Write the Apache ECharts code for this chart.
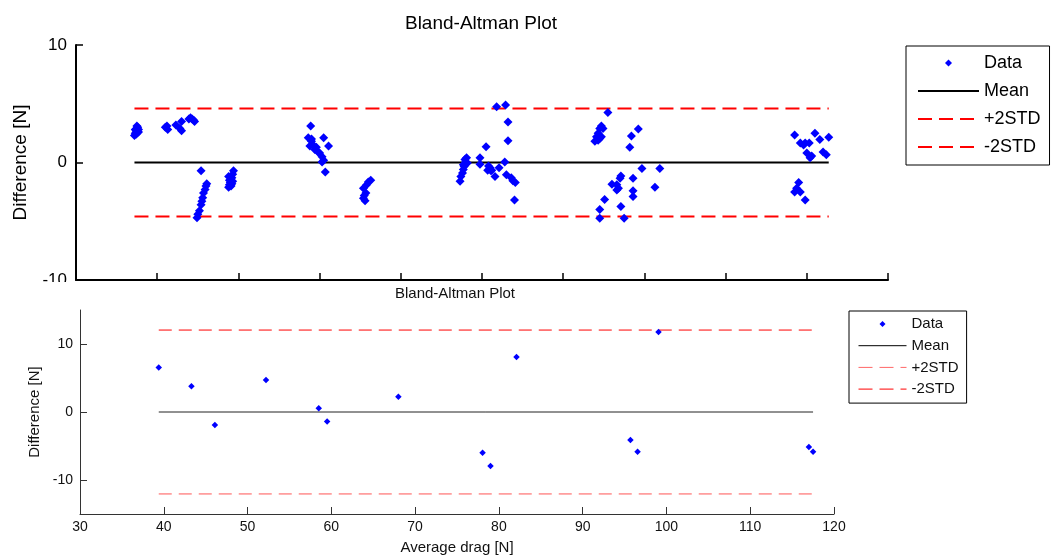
<!DOCTYPE html>
<html><head><meta charset="utf-8">
<script src="https://cdn.jsdelivr.net/npm/echarts@6/dist/echarts.min.js"></script>
<style>html,body{margin:0;padding:0;background:#fff}#c{width:1052px;height:558px}</style>
</head><body><div id="c"></div>
<script>
const FONT = '"Liberation Sans", Arial, Helvetica, sans-serif';
const chartTitle = 'Bland-Altman Plot';
const yName = 'Difference [N]';
const xName = 'Average drag [N]';
const legendNames = ['Data', 'Mean', '+2STD', '-2STD'];

// Top panel (average, difference)
const topAvg = [
  37.2,37.3,37.4,37.5,37.6,37.3,37.5,37.6,37.7,37.4,37.5,37.7,
  41.0,41.3,41.2,42.3,43.0,42.8,43.0,43.9,44.1,44.3,44.5,44.6,
  45.4,46.1,46.0,45.9,45.7,45.6,45.5,45.4,45.2,45.0,44.9,
  49.4,49.3,49.2,48.8,48.9,49.0,49.3,48.9,49.1,48.8,49.2,
  58.9,58.6,59.0,59.2,58.8,60.5,61.1,60.0,60.3,60.5,60.3,60.7,59.4,59.8,59.0,59.6,
  66.3,66.0,65.8,65.4,65.7,65.4,65.6,65.5,
  77.3,77.4,77.6,77.7,77.8,78.0,78.1,77.9,78.2,77.7,79.75,79.75,80.5,80.7,81.0,81.2,81.6,82.1,82.8,83.2,83.2,81.8,82.9,83.0,83.6,83.8,84.1,84.0,80.8,81.1,
  95.5,94.7,94.5,94.9,94.3,94.1,94.5,93.9,94.3,94.7,99.25,98.4,98.2,99.7,101.9,97.1,98.6,96.0,96.8,96.6,101.3,98.6,98.6,95.1,97.1,94.5,94.5,97.5,97.0,96.6,
  118.5,121.0,122.7,121.6,119.2,119.8,120.3,119.6,120.0,120.6,122.0,122.4,120.4,119.0,118.75,119.2,119.8,118.5
];
const topDiff = [
  2.3,2.5,2.7,2.9,3.0,2.8,2.5,2.6,2.8,2.4,3.1,2.6,
  3.0,2.8,3.1,3.2,3.5,2.9,2.7,3.7,3.8,3.7,3.6,3.5,
  -0.7,-1.8,-2.0,-2.3,-2.6,-3.0,-3.3,-3.6,-4.1,-4.4,-4.7,
  -0.7,-1.0,-1.3,-1.2,-1.5,-1.7,-1.6,-1.9,-2.0,-2.1,-1.8,
  3.1,2.1,1.8,1.5,1.4,2.1,1.4,0.8,0.5,0.2,0.05,-0.8,1.1,0.9,2.0,1.3,
  -1.5,-1.65,-1.9,-2.2,-2.6,-3.05,-3.25,-2.8,
  -1.6,-1.2,-0.9,-0.6,-0.35,0.05,0.4,0.25,-0.05,-0.2,0.4,-0.15,1.35,-0.65,-0.45,-0.65,-1.2,-0.45,0.05,1.85,3.45,4.75,4.9,-1.05,-1.3,-1.55,-1.7,-3.2,-0.3,-0.7,
  4.25,3.1,2.9,2.9,2.5,2.2,2.05,1.8,1.9,2.2,2.85,2.25,1.3,-0.5,-0.5,-1.15,-1.35,-1.85,-2.2,-2.35,-2.1,-2.4,-2.9,-3.15,-3.75,-4.0,-4.75,-4.75,-1.35,-1.9,
  2.35,2.5,2.15,1.95,1.65,1.65,1.65,1.5,0.8,0.55,0.9,0.65,0.4,-1.7,-2.2,-2.5,-3.2,-2.5
];
const topMean = 0;
const topLimit = 4.6;

// Bottom panel
const botAvg  = [39.4,43.3,46.1,52.2,58.5,59.5,68.0,78.05,79.0,82.1,99.05,95.7,96.55,117.0,117.5];
const botDiff = [6.55,3.8,-1.9,4.7,0.55,-1.4,2.25,-6.0,-7.95,8.1,11.75,-4.1,-5.85,-5.15,-5.85];
const botMean = 0;
const botLimit = 12.05;

// Axis ranges / ticks
const topXRange = [30, 130];
const topYRange = [-10, 10];
const botXRange = [30, 120];
const botYRange = [-15, 15];
const botYTicks = [-10, 0, 10];

const pairs = (xs, ys) => xs.map((x, i) => [x, ys[i]]);
const span = (xs, v) => [[Math.min(...xs), v], [Math.max(...xs), v]];

// legend icon: small diamond centred in a box of the legend item size (moveTo points fix the bounds)
function diamondIcon(w, h, d) {
  const cx = w / 2, cy = h / 2, r = d / 2;
  return 'path://M0,0M' + w + ',' + h + 'M' + cx + ',' + (cy - r) + 'L' + (cx + r) + ',' + cy +
         'L' + cx + ',' + (cy + r) + 'L' + (cx - r) + ',' + cy + 'Z';
}
function legendData(w, h, d, plusColor, minusColor) {
  const hide = {opacity: 0, borderWidth: 0};
  return [
    {name: legendNames[0], icon: diamondIcon(w, h, d), itemStyle: {color: '#0000ff', opacity: 1}},
    {name: legendNames[1], itemStyle: hide},
    {name: legendNames[2], itemStyle: hide, lineStyle: {color: plusColor}},
    {name: legendNames[3], itemStyle: hide, lineStyle: {color: minusColor}}
  ];
}

const chart = echarts.init(document.getElementById('c'), null, {renderer: 'canvas'});

function axisX(grid, range, showLabel, fs, lw, color, name) {
  return {
    type: 'value', gridIndex: grid, min: range[0], max: range[1], interval: 10,
    axisLine: {show: true, onZero: false, lineStyle: {color: color, width: lw}},
    axisTick: {show: true, inside: true, length: 7, lineStyle: {color: color, width: lw > 1 ? 1.5 : 1}},
    axisLabel: {show: showLabel, fontSize: fs, color: '#111', fontFamily: FONT, margin: 6},
    splitLine: {show: false},
    name: name || '', nameLocation: 'middle', nameGap: 26,
    nameTextStyle: {fontSize: 15, color: '#111', fontFamily: FONT}
  };
}

const option = {
  animation: false,
  backgroundColor: '#fff',
  textStyle: {fontFamily: FONT},
  title: [
    {text: chartTitle, left: 481, top: 14, textAlign: 'center', padding: 0,
     textStyle: {fontSize: 19, fontWeight: 'normal', color: '#000', fontFamily: FONT}},
    {text: chartTitle, left: 455, top: 286, textAlign: 'center', padding: 0,
     textStyle: {fontSize: 15, fontWeight: 'normal', color: '#111', fontFamily: FONT}}
  ],
  grid: [
    {left: 76, top: 45, width: 812, height: 235},
    {left: 80, top: 310, width: 754, height: 204}
  ],
  xAxis: [
    axisX(0, topXRange, false, 17, 2, '#000'),
    axisX(1, botXRange, true, 14, 1, '#333', xName)
  ],
  yAxis: [
    {type: 'value', gridIndex: 0, min: topYRange[0], max: topYRange[1], interval: 10,
     axisLine: {show: true, onZero: false, lineStyle: {color: '#000', width: 2}},
     axisTick: {show: true, inside: true, length: 7, lineStyle: {color: '#000', width: 1.5}},
     axisLabel: {fontSize: 17, color: '#000', margin: 9, fontFamily: FONT},
     splitLine: {show: false},
     name: yName, nameLocation: 'middle', nameGap: 46,
     nameTextStyle: {fontSize: 19, color: '#000', fontFamily: FONT}},
    {type: 'value', gridIndex: 1, min: botYRange[0], max: botYRange[1],
     axisLine: {show: true, onZero: false, lineStyle: {color: '#333', width: 1}},
     axisTick: {show: true, inside: true, length: 7, customValues: botYTicks, lineStyle: {color: '#333', width: 1}},
     axisLabel: {fontSize: 14, color: '#111', margin: 7, customValues: botYTicks, fontFamily: FONT},
     splitLine: {show: false},
     name: yName, nameLocation: 'middle', nameGap: 31,
     nameTextStyle: {fontSize: 15, color: '#111', fontFamily: FONT}}
  ],
  legend: [
    {orient: 'vertical', left: 906, top: 46, padding: [7, 9, 8, 11],
     itemWidth: 61, itemHeight: 7, itemGap: 8, itemTextGap: 7,
     borderColor: '#000', borderWidth: 1, selectedMode: false,
     textStyle: {fontSize: 18, lineHeight: 20, color: '#000', fontFamily: FONT},
     data: legendData(61, 7, 7, '#ff0000', '#ff0000')},
    {orient: 'vertical', left: 849, top: 311, padding: [5, 8, 6, 9],
     itemWidth: 48, itemHeight: 6, itemGap: 5.7, itemTextGap: 5,
     borderColor: '#000', borderWidth: 1, selectedMode: false,
     lineStyle: {width: 1},
     textStyle: {fontSize: 15, lineHeight: 16, color: '#111', fontFamily: FONT},
     data: legendData(48, 6, 6, '#ff6666', '#ff0000')}
  ],
  graphic: [
    {type: 'rect', z: 100, shape: {x: 0, y: 282, width: 74, height: 16}, style: {fill: '#fff'}}
  ],
  series: [
    {type: 'line', name: legendNames[1], xAxisIndex: 0, yAxisIndex: 0, data: span(topAvg, topMean),
     symbol: 'none', color: '#000', lineStyle: {color: '#000', width: 2}, silent: true, z: 2},
    {type: 'line', name: legendNames[2], xAxisIndex: 0, yAxisIndex: 0, data: span(topAvg, topMean + topLimit),
     symbol: 'none', color: '#ff0000', lineStyle: {color: '#ff0000', width: 2, type: [14, 7]}, silent: true, z: 2},
    {type: 'line', name: legendNames[3], xAxisIndex: 0, yAxisIndex: 0, data: span(topAvg, topMean - topLimit),
     symbol: 'none', color: '#ff0000', lineStyle: {color: '#ff0000', width: 2, type: [14, 7]}, silent: true, z: 2},
    {type: 'scatter', name: legendNames[0], xAxisIndex: 0, yAxisIndex: 0, data: pairs(topAvg, topDiff),
     symbol: 'diamond', symbolSize: 9, color: '#0000ff', itemStyle: {color: '#0000ff', opacity: 1}, z: 3},

    {type: 'line', name: legendNames[1], xAxisIndex: 1, yAxisIndex: 1, data: span(botAvg, botMean),
     symbol: 'none', color: '#000', lineStyle: {color: '#222', width: 1}, silent: true, z: 2},
    {type: 'line', name: legendNames[2], xAxisIndex: 1, yAxisIndex: 1, data: span(botAvg, botMean + botLimit),
     symbol: 'none', color: '#ff0000', lineStyle: {color: '#ff0000', width: 1, type: [13, 7]}, silent: true, z: 2},
    {type: 'line', name: legendNames[3], xAxisIndex: 1, yAxisIndex: 1, data: span(botAvg, botMean - botLimit),
     symbol: 'none', color: '#ff0000', lineStyle: {color: '#ff5555', width: 1, type: [13, 7]}, silent: true, z: 2},
    {type: 'scatter', name: legendNames[0], xAxisIndex: 1, yAxisIndex: 1, data: pairs(botAvg, botDiff),
     symbol: 'diamond', symbolSize: 6.5, color: '#0000ff', itemStyle: {color: '#0000ff', opacity: 1}, z: 3}
  ]
};
chart.setOption(option);
</script>
</body></html>
